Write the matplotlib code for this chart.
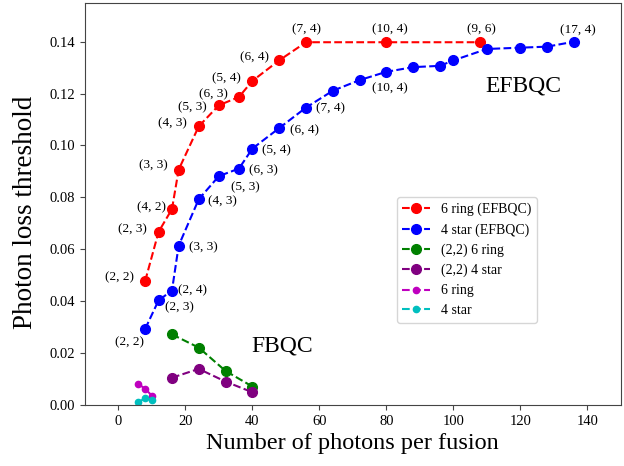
import matplotlib
matplotlib.use("Agg")
import matplotlib.pyplot as plt

plt.rcParams["font.family"] = ["Liberation Serif", "DejaVu Serif"]

# 6 ring (EFBQC)
ring_x = [8, 12, 16, 18, 24, 30, 36, 40, 48, 56, 80, 108]
ring_y = [0.0478, 0.0667, 0.0755, 0.0907, 0.1074, 0.1155, 0.1187, 0.1249, 0.1328, 0.1398, 0.1398, 0.1398]
ring_lab = ["(2, 2)", "(2, 3)", "(4, 2)", "(3, 3)", "(4, 3)", "(5, 3)", "(6, 3)", "(5, 4)", "(6, 4)", "(7, 4)", "(10, 4)", "(9, 6)"]

# 4 star (EFBQC)
star_x = [8, 12, 16, 18, 24, 30, 36, 40, 48, 56, 64, 72, 80, 88, 96, 100, 110, 120, 128, 136]
star_y = [0.0293, 0.0403, 0.0441, 0.0614, 0.0793, 0.0882, 0.0911, 0.0988, 0.1067, 0.1146,
          0.1211, 0.1252, 0.1284, 0.1302, 0.1307, 0.1328, 0.1372, 0.1377, 0.1381, 0.1400]
star_lab = ["(2, 2)", "(2, 3)", "(2, 4)", "(3, 3)", "(4, 3)", "(5, 3)", "(6, 3)", "(5, 4)", "(6, 4)", "(7, 4)",
            "", "", "(10, 4)", "", "", "", "", "", "", "(17, 4)"]

# FBQC
g22_ring_x = [16, 24, 32, 40]
g22_ring_y = [0.0272, 0.0221, 0.0131, 0.0071]
g22_star_x = [16, 24, 32, 40]
g22_star_y = [0.0105, 0.0139, 0.0090, 0.0049]
fb_ring_x = [6, 8, 10]
fb_ring_y = [0.0081, 0.0062, 0.0036]
fb_star_x = [6, 8, 10]
fb_star_y = [0.0010, 0.0027, 0.0018]

# label offsets in pixels (dx, dy)
ring_off = [(-26, 4), (-26, 3), (-20, 2), (-25, 4), (-26, 3), (-26, -2), (-26, 3), (-26, 3), (-25, 3),
            (1, 13), (4, 13), (1, 13)]
star_off = [(-16, -13), (21, -7), (21, 0), (25, -2), (24, -2), (27, -11), (24, -2), (24, -2), (25, -2), (25, -1),
            (0, 0), (0, 0), (4, -16), (0, 0), (0, 0), (0, 0), (0, 0), (0, 0), (0, 0), (4, 11)]

fig = plt.figure(figsize=(6.24, 4.66), dpi=100)
ax = fig.add_axes([0.136, 0.131, 0.859, 0.863])

ax.plot(ring_x, ring_y, "--o", color="red", ms=7, lw=1.5, label="6 ring (EFBQC)")
ax.plot(star_x, star_y, "--o", color="blue", ms=7, lw=1.5, label="4 star (EFBQC)")
ax.plot(g22_ring_x, g22_ring_y, "--o", color="green", ms=7, lw=1.5, label="(2,2) 6 ring")
ax.plot(g22_star_x, g22_star_y, "--o", color="purple", ms=7, lw=1.5, label="(2,2) 4 star")
ax.plot(fb_ring_x, fb_ring_y, "--o", color="m", ms=4.5, lw=1.5, label="6 ring")
ax.plot(fb_star_x, fb_star_y, "--o", color="c", ms=4.5, lw=1.5, label="4 star")

for x, y, s, (dx, dy) in zip(ring_x, ring_y, ring_lab, ring_off):
    ax.annotate(s, (x, y), xytext=(dx, dy), textcoords="offset pixels",
                ha="center", va="center", fontsize=9.5)
for x, y, s, (dx, dy) in zip(star_x, star_y, star_lab, star_off):
    if s:
        ax.annotate(s, (x, y), xytext=(dx, dy), textcoords="offset pixels",
                    ha="center", va="center", fontsize=9.5)

ax.text(121, 0.1229, "EFBQC", fontsize=17, ha="center", va="center")
ax.text(49, 0.0227, "FBQC", fontsize=17, ha="center", va="center")

ax.set_xlim(-10, 150)
ax.set_ylim(0, 0.155)
ax.set_xticks(range(0, 141, 20))
ax.set_yticks([0, 0.02, 0.04, 0.06, 0.08, 0.10, 0.12, 0.14])
ax.set_yticklabels(["0.00", "0.02", "0.04", "0.06", "0.08", "0.10", "0.12", "0.14"])
ax.tick_params(labelsize=10.5, color="#444444")
for sp in ax.spines.values():
    sp.set_color("#444444")

ax.set_xlabel("Number of photons per fusion", fontsize=17.5)
ax.set_ylabel("Photon loss threshold", fontsize=19.5)
ax.yaxis.set_label_coords(-0.088, 0.48)

ax.legend(loc="lower left", bbox_to_anchor=(0.582, 0.204), borderaxespad=0, fontsize=10)

fig.savefig("out.png")
